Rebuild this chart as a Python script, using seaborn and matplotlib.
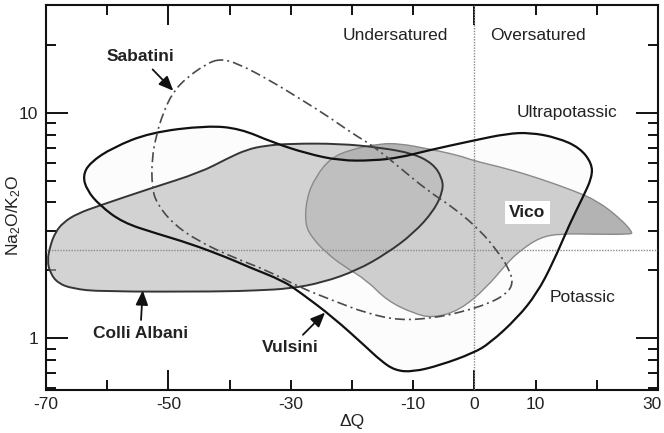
import numpy as np
import matplotlib
matplotlib.use("Agg")
import matplotlib.pyplot as plt
import matplotlib.transforms as mtransforms
import seaborn as sns
from matplotlib.path import Path
from matplotlib.patches import PathPatch
from matplotlib.ticker import FixedLocator, NullFormatter

# ---- field outlines: ΔQ versus Na2O/K2O ----
colli_albani_dq = [-69.8, -69.3, -68.5, -67.2, -64.9, -61.2, -53.0, -44.8, -40.4, -37.2,
                   -34.2, -30.1, -22.0, -15.4, -10.0, -6.8, -5.3, -5.1, -6.6, -10.0,
                   -14.3, -19.2, -24.7, -30.1, -35.5, -41.6, -61.2, -65.6, -68.0, -69.3]
colli_albani_ratio = [2.21, 2.58, 2.94, 3.26, 3.57, 3.88, 4.61, 5.43, 6.26, 6.86,
                      7.14, 7.29, 7.29, 7.00, 6.59, 5.95, 5.16, 4.52, 3.68, 2.91,
                      2.38, 2.00, 1.77, 1.66, 1.63, 1.61, 1.61, 1.66, 1.75, 1.94]

vico_dq = [-27.7, -27.4, -26.0, -23.6, -20.3, -15.4, -12.2, -7.7, -2.4, -0.2,
           5.3, 10.7, 16.1, 20.0, 23.8, 25.9, 25.4, 20.0, 14.0, 10.7,
           7.5, 5.3, 2.0, -2.4, -6.8, -10.0, -14.3, -17.6, -21.5, -24.1, -26.6]
vico_ratio = [3.23, 4.21, 5.16, 6.26, 6.86, 7.29, 7.29, 6.93, 6.45, 6.13,
              5.65, 5.10, 4.52, 4.08, 3.40, 2.94, 2.89, 2.89, 2.91, 2.80,
              2.45, 2.15, 1.68, 1.33, 1.23, 1.29, 1.47, 1.81, 2.10, 2.38, 2.80]

vulsini_dq = [-64.0, -62.8, -59.1, -53.0, -43.7, -38.3, -32.9, -27.4, -22.0, -16.6,
              -12.2, -7.7, -0.2, 5.3, 9.1, 13.5, 17.2, 19.2, 19.2, 17.7,
              15.6, 12.8, 10.2, 7.0, 2.5, -0.2, -5.6, -10.0, -13.0, -15.4,
              -17.6, -23.1, -28.5, -31.3, -36.7, -40.4, -46.5, -51.9, -57.5, -61.2, -63.3]
vulsini_ratio = [5.26, 6.01, 7.00, 8.16, 8.76, 8.50, 7.37, 6.59, 6.13, 6.13,
                 6.32, 6.79, 7.52, 8.07, 8.16, 7.75, 7.00, 5.95, 5.16, 4.21,
                 3.23, 2.15, 1.58, 1.23, 0.95, 0.86, 0.76, 0.71, 0.72, 0.80,
                 0.91, 1.24, 1.60, 1.80, 2.06, 2.28, 2.63, 2.91, 3.26, 3.88, 4.52]

sabatini_dq = [-41.6, -38.8, -33.4, -28.0, -23.6, -19.9, -16.6, -12.2, -7.7, -3.2,
               0.9, 3.7, 5.8, 6.3, 5.3, 2.5, -2.4, -6.8, -12.2, -17.6,
               -23.1, -28.5, -33.9, -39.4, -45.3, -49.3, -51.9, -52.7, -52.7, -51.9,
               -50.9, -49.3, -47.0, -43.7]
sabatini_ratio = [17.3, 16.6, 13.9, 11.3, 9.50, 8.07, 7.14, 5.71, 4.52, 3.76,
                  3.01, 2.45, 2.00, 1.75, 1.58, 1.43, 1.30, 1.23, 1.20, 1.29,
                  1.47, 1.68, 2.00, 2.28, 2.71, 3.23, 3.96, 4.66, 6.32, 8.07,
                  9.90, 12.3, 14.3, 16.5]

# saturation and potassic boundaries
dq_saturation = 0.0
ratio_potassic = 2.45

x_limits = (-70, 30)
y_limits = (0.59, 30)
x_major = [-50, 0]
x_minor = [-70, -60, -40, -30, -20, -10, 10, 20, 30]
x_minor_labels = ["-70", "", "", "-30", "", "-10", "10", "", "30"]
y_major = [1, 10]
y_minor = [0.6, 0.7, 0.8, 0.9, 2, 3, 4, 5, 6, 7, 8, 9, 20]


def smooth_closed_path(dq, ratio):
    """Closed quadratic B-spline through the outline, built in log-ratio space."""
    x = np.asarray(dq, dtype=float)
    ly = np.log10(np.asarray(ratio, dtype=float))
    mx = (x + np.roll(x, -1)) / 2
    my = (ly + np.roll(ly, -1)) / 2
    n = len(x)
    verts = [(mx[-1], my[-1])]
    codes = [Path.MOVETO]
    for i in range(n):
        verts.append((x[i], ly[i]))
        verts.append((mx[i], my[i]))
        codes += [Path.CURVE3, Path.CURVE3]
    verts.append((mx[-1], my[-1]))
    codes.append(Path.CLOSEPOLY)
    verts = np.array(verts)
    verts[:, 1] = 10 ** verts[:, 1]
    return Path(verts, codes)


sns.set_theme(style="ticks")
plt.rcParams["font.family"] = ["Liberation Sans", "DejaVu Sans"]
plt.rcParams["mathtext.fontset"] = "custom"
plt.rcParams["mathtext.rm"] = "Liberation Sans"
plt.rcParams["mathtext.default"] = "regular"

fig = plt.figure(figsize=(6.64, 4.33), dpi=100)
ax = fig.add_axes([0.0693, 0.0993, 0.9217, 0.8892])
ax.set_facecolor("white")
ax.set_yscale("log")
ax.set_xlim(*x_limits)
ax.set_ylim(*y_limits)

p_vico = smooth_closed_path(vico_dq, vico_ratio)
p_vulsini = smooth_closed_path(vulsini_dq, vulsini_ratio)
p_colli = smooth_closed_path(colli_albani_dq, colli_albani_ratio)
p_sabatini = smooth_closed_path(sabatini_dq, sabatini_ratio)

# fills
ax.add_patch(PathPatch(p_vico, facecolor="#b3b3b3", edgecolor="none", zorder=1))
ax.add_patch(PathPatch(p_vulsini, facecolor="#f8f8f8", alpha=0.4, edgecolor="none", zorder=2))
ax.add_patch(PathPatch(p_colli, facecolor="#b6b6b6", alpha=0.6, edgecolor="none", zorder=3))

# boundary lines
ax.axhline(ratio_potassic, color="#8a8a8a", lw=1.0, ls=(0, (1, 1)), zorder=4)
ax.axvline(dq_saturation, color="#8a8a8a", lw=1.0, ls=(0, (1, 1)), zorder=4)

# outlines
ax.add_patch(PathPatch(p_vico, facecolor="none", edgecolor="#8a8a8a", lw=1.0, zorder=5))
ax.add_patch(PathPatch(p_colli, facecolor="none", edgecolor="#353535", lw=1.4, zorder=6))
ax.add_patch(PathPatch(p_vulsini, facecolor="none", edgecolor="#111111", lw=1.6, zorder=7))
ax.add_patch(PathPatch(p_sabatini, facecolor="none", edgecolor="#4a4a4a", lw=1.2,
                       ls=(0, (6, 2.4, 1.2, 2.4)), zorder=7))

# axes styling
for s in ax.spines.values():
    s.set_linewidth(1.5)
    s.set_color("#111111")
    s.set_visible(True)

ax.set_xticks(x_major, ["-50", "0"])
ax.set_xticks(x_minor, x_minor_labels, minor=True)
ax.set_yticks(y_major, ["1", "10"])
ax.yaxis.set_minor_locator(FixedLocator(y_minor))
ax.yaxis.set_minor_formatter(NullFormatter())

ax.tick_params(which="both", direction="in", top=True, right=True, color="#111111",
               width=1.4, labelsize=12.5, labelcolor="#222222")
ax.tick_params(axis="x", which="major", length=14.5, pad=5)
ax.tick_params(axis="x", which="minor", length=7.5, pad=5)
ax.tick_params(axis="y", which="major", length=15.5, pad=5.5)
ax.tick_params(axis="y", which="minor", length=7.5)
ax.grid(False)

# keep the last x tick label inside the figure edge
last_label = ax.xaxis.get_minorticklabels()[-1]
last_label.set_transform(last_label.get_transform() +
                         mtransforms.ScaledTranslation(-6 / 100, 0, fig.dpi_scale_trans))

ax.set_xlabel("ΔQ", fontsize=12.5, color="#222222")
ax.xaxis.set_label_coords(0.5, -0.062)
ax.set_ylabel(r"Na$_\mathregular{2}$O/K$_\mathregular{2}$O", fontsize=12.5, color="#222222")
ax.yaxis.set_label_coords(-0.038, 0.455)

# region labels
txt = dict(fontsize=12.5, color="#222222", ha="center", va="center", zorder=9)
ax.text(-13.0, 21.9, "Undersatured", **txt)
ax.text(10.4, 21.9, "Oversatured", **txt)
ax.text(15.1, 10.0, "Ultrapotassic", **txt)
ax.text(17.7, 1.52, "Potassic", **txt)
ax.text(8.6, 3.61, "Vico", fontsize=12.5, fontweight="bold", color="#222222",
        ha="center", va="center", zorder=9,
        bbox=dict(boxstyle="square,pad=0.25", fc="white", ec="none"))

arrow = dict(arrowstyle="-|>,head_length=0.7,head_width=0.3", color="#111111", lw=1.3,
             shrinkA=2, shrinkB=0)
bold = dict(fontsize=12.5, fontweight="bold", color="#222222", ha="center", va="center",
            zorder=9)
ax.annotate("Sabatini", xy=(-49.2, 12.5), xytext=(-54.6, 17.7), arrowprops=arrow, **bold)
ax.annotate("Colli Albani", xy=(-54.2, 1.63), xytext=(-54.6, 1.05), arrowprops=arrow, **bold)
ax.annotate("Vulsini", xy=(-24.4, 1.30), xytext=(-30.1, 0.91), arrowprops=arrow, **bold)

fig.savefig("out.png", dpi=100, facecolor="white")
